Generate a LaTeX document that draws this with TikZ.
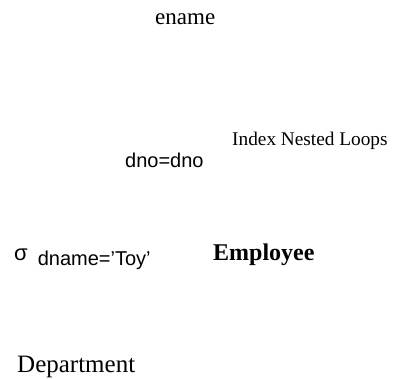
\documentclass[tikz,border=0pt]{standalone}
\usepackage{fontspec}
\setmainfont{Liberation Serif}
\setsansfont{Liberation Sans}
\usepackage{tikz}
\usetikzlibrary{positioning}

\begin{document}
\begin{tikzpicture}[x=1pt, y=-1pt,
    lbl/.style={inner sep=0pt, anchor=base west},
    rel/.style={lbl, font=\fontsize{23}{27}\selectfont},
    cond/.style={lbl, font=\sffamily\fontsize{20}{24}\selectfont}]
  \useasboundingbox (0,0) rectangle (398,379);
  \node[rel] (ename) at (155,25) {ename};
  \node[lbl, font=\fontsize{19.3}{23}\selectfont] (inl) at (232,146) {Index Nested Loops};
  \node[cond] (join) at (125,168) {dno=dno};
  \node[cond] (sel) at (14,260) {{\fontsize{22}{24}\selectfont σ}\hspace{10pt}\raisebox{-5pt}{dname='Toy'}};
  \node[rel, font=\bfseries\fontsize{24}{28}\selectfont] (emp) at (213,260) {Employee};
  \node[rel, font=\fontsize{25}{29}\selectfont] (dept) at (17,372) {Department};
\end{tikzpicture}
\end{document}
